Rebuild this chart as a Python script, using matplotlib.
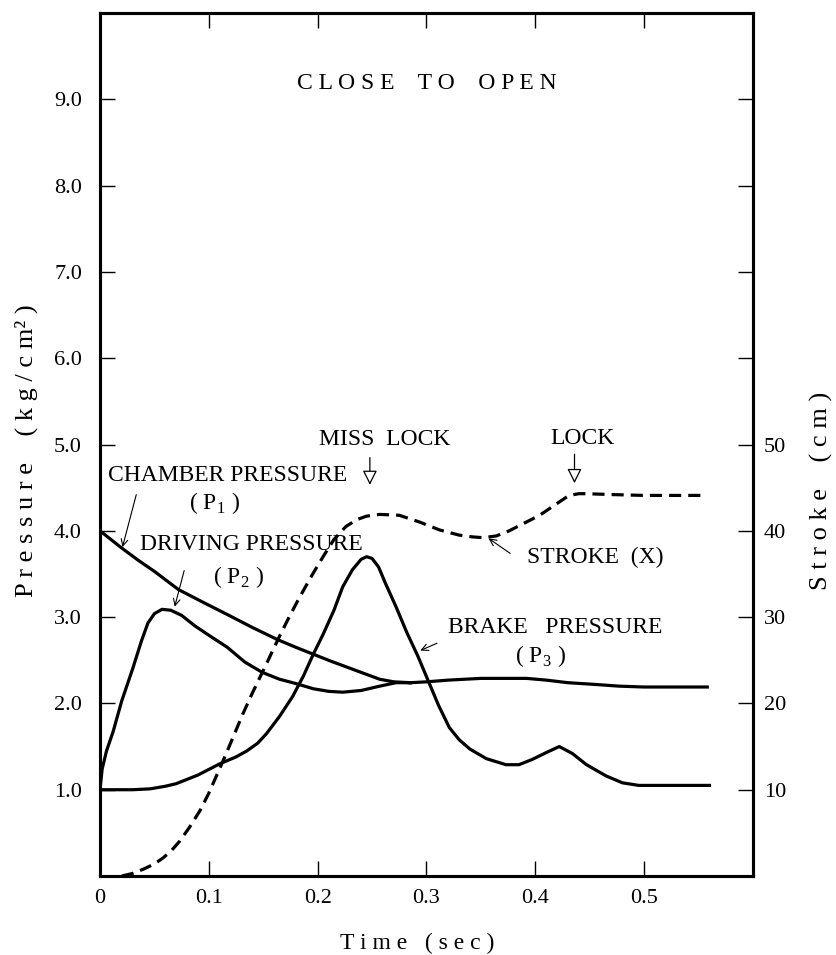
import numpy as np
import matplotlib.pyplot as plt

plt.rcParams['font.family'] = ['Liberation Serif', 'DejaVu Serif']
plt.rcParams['mathtext.fontset'] = 'custom'
plt.rcParams['mathtext.rm'] = 'Liberation Serif'

# chamber pressure P1 (kg/cm2)
t_chamber = [0, 0.01, 0.02, 0.035, 0.05, 0.072, 0.095, 0.117, 0.14, 0.163, 0.18,
             0.196, 0.212, 0.227, 0.242, 0.257, 0.27, 0.285]
p_chamber = [4.0, 3.9, 3.8, 3.66, 3.53, 3.32, 3.17, 3.03, 2.88, 2.74, 2.65,
             2.57, 2.49, 2.42, 2.35, 2.28, 2.25, 2.24]

# driving pressure P2 (kg/cm2)
t_driving = [0, 0.002, 0.006, 0.012, 0.02, 0.03, 0.038, 0.044, 0.05, 0.057, 0.065,
             0.075, 0.087, 0.1, 0.117, 0.133, 0.149, 0.165, 0.18, 0.196, 0.21,
             0.223, 0.24, 0.257, 0.272, 0.285]
p_driving = [1.0, 1.24, 1.45, 1.67, 2.03, 2.4, 2.72, 2.93, 3.04, 3.09, 3.08,
             3.02, 2.9, 2.79, 2.65, 2.48, 2.36, 2.28, 2.23, 2.17, 2.14,
             2.13, 2.15, 2.2, 2.24, 2.24]

# P1 and P2 run together once equalised
t_common = [0.285, 0.30, 0.32, 0.35, 0.37, 0.392, 0.41, 0.43, 0.455, 0.477, 0.50, 0.53, 0.558]
p_common = [2.24, 2.25, 2.27, 2.29, 2.29, 2.29, 2.27, 2.24, 2.22, 2.20, 2.19, 2.19, 2.19]

# brake pressure P3 (kg/cm2)
t_brake = [0, 0.03, 0.046, 0.06, 0.07, 0.09, 0.11, 0.125, 0.135, 0.145, 0.153, 0.165,
           0.177, 0.187, 0.196, 0.205, 0.215, 0.223, 0.232, 0.24, 0.245, 0.25, 0.256,
           0.262, 0.272, 0.282, 0.292, 0.301, 0.311, 0.321, 0.33, 0.34, 0.355, 0.373,
           0.385, 0.397, 0.41, 0.422, 0.434, 0.447, 0.465, 0.48, 0.495, 0.52, 0.56]
p_brake = [1.0, 1.0, 1.01, 1.04, 1.07, 1.17, 1.3, 1.38, 1.45, 1.54, 1.65, 1.85,
           2.08, 2.32, 2.57, 2.8, 3.08, 3.35, 3.55, 3.67, 3.70, 3.68, 3.58,
           3.40, 3.12, 2.82, 2.55, 2.28, 1.98, 1.72, 1.58, 1.47, 1.36, 1.29,
           1.29, 1.35, 1.43, 1.50, 1.42, 1.29, 1.16, 1.08, 1.05, 1.05, 1.05]

# stroke X (cm)
t_stroke = [0.02, 0.03, 0.04, 0.05, 0.058, 0.066, 0.073, 0.082, 0.092, 0.1, 0.107,
            0.115, 0.122, 0.131, 0.14, 0.153, 0.165, 0.175, 0.183, 0.195, 0.205,
            0.215, 0.226, 0.236, 0.245, 0.257, 0.275, 0.294, 0.312, 0.33, 0.342,
            0.352, 0.364, 0.376, 0.39, 0.404, 0.418, 0.431, 0.44, 0.447, 0.47,
            0.5, 0.53, 0.557]
x_stroke = [0, 0.3, 0.8, 1.4, 2.1, 3.0, 4.0, 5.6, 7.6, 9.6, 11.6,
            13.9, 16.0, 18.7, 21.2, 24.6, 27.8, 30.3, 32.2, 34.9, 37.0,
            39.0, 40.5, 41.3, 41.7, 41.9, 41.8, 41.0, 40.1, 39.5, 39.3,
            39.2, 39.4, 40.0, 40.9, 41.8, 43.0, 44.1, 44.3, 44.3, 44.2,
            44.1, 44.1, 44.1]

x_ticks = [0, 0.1, 0.2, 0.3, 0.4, 0.5]
x_labels = ['0', '0.1', '0.2', '0.3', '0.4', '0.5']
p_ticks = [1, 2, 3, 4, 5, 6, 7, 8, 9]
p_labels = ['1.0', '2.0', '3.0', '4.0', '5.0', '6.0', '7.0', '8.0', '9.0']
s_ticks = [10, 20, 30, 40, 50, 60, 70, 80, 90]
s_labels = ['10', '20', '30', '40', '50', '', '', '', '']

fig = plt.figure(figsize=(8.36, 9.55), dpi=100)
ax = fig.add_axes([0.1196, 0.0827, 0.7811, 0.9037])
ax2 = ax.twinx()

lw = 2.3
ax.plot(t_chamber, p_chamber, color='black', lw=lw)
ax.plot(t_driving, p_driving, color='black', lw=lw)
ax.plot(t_common, p_common, color='black', lw=lw)
ax.plot(t_brake, p_brake, color='black', lw=lw)
ax2.plot(t_stroke, x_stroke, color='black', lw=lw, linestyle=(0, (3.8, 2.2)))

ax.set_xlim(0, 0.6)
ax.set_ylim(0, 10)
ax2.set_ylim(0, 100)

ax.set_xticks(x_ticks)
ax.set_xticklabels(x_labels)
ax.set_yticks(p_ticks)
ax.set_yticklabels(p_labels)
ax2.set_yticks(s_ticks)
ax2.set_yticklabels(s_labels)

fs = 17
ax.tick_params(axis='x', direction='in', length=11, width=1, top=True,
               labelsize=16, pad=9)
ax.tick_params(axis='y', direction='in', length=11, width=1, labelsize=16, pad=13)
ax2.tick_params(axis='y', direction='in', length=11, width=1, labelsize=16, pad=8)
for a in (ax, ax2):
    for s in a.spines.values():
        s.set_linewidth(2.2)

# axis titles, letter-spaced
fig.text(0.032, 0.528, 'P r e s s u r e    ( k g / c m² )', rotation=90,
         ha='center', va='center', fontsize=19)
fig.text(0.983, 0.486, 'S t r o k e    ( c m )', rotation=90,
         ha='center', va='center', fontsize=19)
fig.text(0.499, 0.0126, 'T i m e   ( s e c )', ha='center', va='center', fontsize=fs)

ax.text(0.3, 9.18, 'C L O S E    T O    O P E N', ha='center', va='center', fontsize=fs)

# curve labels
thin = dict(arrowstyle='->', color='black', lw=0.8, mutation_scale=12)
hollow = dict(arrowstyle='-|>', fc='white', ec='black', lw=0.9, mutation_scale=22)

ax.text(0.117, 4.64, 'CHAMBER PRESSURE', ha='center', va='center', fontsize=fs)
ax.text(0.105, 4.32, r'( P$_{\mathregular{1}}$ )', ha='center', va='center', fontsize=fs)
ax.annotate('', xy=(0.02, 3.78), xytext=(0.034, 4.45), arrowprops=thin)

ax.text(0.139, 3.84, 'DRIVING PRESSURE', ha='center', va='center', fontsize=fs)
ax.text(0.127, 3.47, r'( P$_{\mathregular{2}}$ )', ha='center', va='center', fontsize=fs)
ax.annotate('', xy=(0.068, 3.09), xytext=(0.078, 3.57), arrowprops=thin)

ax.text(0.262, 5.06, 'MISS  LOCK', ha='center', va='center', fontsize=fs)
ax.annotate('', xy=(0.248, 4.5), xytext=(0.248, 4.88), arrowprops=hollow)

ax.text(0.443, 5.07, 'LOCK', ha='center', va='center', fontsize=fs)
ax.annotate('', xy=(0.436, 4.52), xytext=(0.436, 4.92), arrowprops=hollow)

ax.text(0.455, 3.69, 'STROKE  (X)', ha='center', va='center', fontsize=fs)
ax.annotate('', xy=(0.355, 3.93), xytext=(0.379, 3.72), arrowprops=thin)

ax.text(0.418, 2.88, 'BRAKE   PRESSURE', ha='center', va='center', fontsize=fs)
ax.text(0.405, 2.55, r'( P$_{\mathregular{3}}$ )', ha='center', va='center', fontsize=fs)
ax.annotate('', xy=(0.292, 2.60), xytext=(0.312, 2.71), arrowprops=thin)

fig.savefig('out.png', dpi=100)
